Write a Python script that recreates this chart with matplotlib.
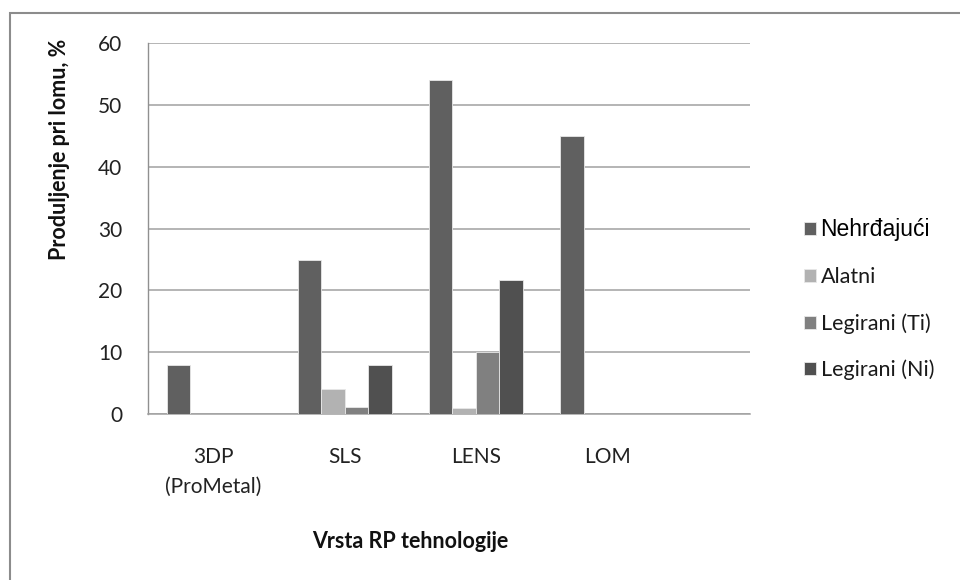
import numpy as np
import matplotlib.pyplot as plt
from matplotlib.patches import Rectangle

plt.rcParams['font.family'] = ['Lato', 'DejaVu Sans']

# podaci
tehnologije = ['3DP\n(ProMetal)', 'SLS', 'LENS', 'LOM']
serije = ['Nehrđajući', 'Alatni', 'Legirani (Ti)', 'Legirani (Ni)']
nehrdjajuci = [8, 25, 54, 45]
alatni = [0, 4, 0.9, 0]
legirani_ti = [0, 1.1, 10, 0]
legirani_ni = [0, 8, 21.7, 0]
boje = ['#606060', '#b2b2b2', '#808080', '#505050']

fig = plt.figure(figsize=(9.6, 5.8), dpi=100)
# okvir oko grafikona
fig.patches.append(Rectangle((10 / 960, -0.1), 1.2, (580 - 13) / 580 + 0.1,
                             transform=fig.transFigure, fill=False,
                             edgecolor='#8c8c8c', linewidth=1.5))

ax = fig.add_axes([148 / 960, 166 / 580, 602 / 960, 370.7 / 580])

x = np.arange(len(tehnologije))
sirina = 0.179
vrijednosti = [nehrdjajuci, alatni, legirani_ti, legirani_ni]
for i, (ime, vals) in enumerate(zip(serije, vrijednosti)):
    ax.bar(x + (i - 1.5) * sirina, vals, sirina, color=boje[i], label=ime,
           edgecolor='#e8e8e8', linewidth=0.6, zorder=3)

ax.set_xlim(-0.5, 4.09)
ax.set_ylim(0, 60)
ax.set_yticks(range(0, 61, 10))
ax.set_xticks(x)
ax.set_xticklabels(tehnologije, fontsize=15, color='#222222', linespacing=1.6)
ax.tick_params(axis='y', labelsize=15, labelcolor='#222222', length=0, pad=18.5)
ax.tick_params(axis='x', length=0, pad=24)
ax.yaxis.grid(True, color='#a0a0a0', linewidth=1.1, zorder=0)
for s in ['top', 'right']:
    ax.spines[s].set_visible(False)
ax.spines['left'].set_color('#909090')
ax.spines['bottom'].set_color('#a0a0a0')
ax.spines['left'].set_linewidth(1.0)
ax.spines['bottom'].set_linewidth(1.1)

fig.text(60 / 960, 1 - 149 / 580, 'Produljenje pri lomu, %', rotation=90,
         ha='center', va='center', fontsize=15.5, fontweight='bold', color='#111111')
fig.text(410 / 960, 1 - 542 / 580, 'Vrsta RP tehnologije',
         ha='center', va='center', fontsize=15.5, fontweight='bold', color='#111111')

leg = ax.legend(loc='upper left', bbox_to_anchor=(785 / 960, 1 - 199 / 580),
                bbox_transform=fig.transFigure, frameon=False, fontsize=15.5,
                handlelength=0.55, handleheight=0.55, handletextpad=0.2,
                labelspacing=1.2)
tekstovi = leg.get_texts()
tekstovi[0].set_fontsize(16.5)
tekstovi[0].set_family(['Liberation Sans', 'DejaVu Sans'])
tekstovi[0].set_color('#000000')
for t in tekstovi[1:]:
    t.set_color('#1a1a1a')

fig.savefig('out.png', dpi=100)
